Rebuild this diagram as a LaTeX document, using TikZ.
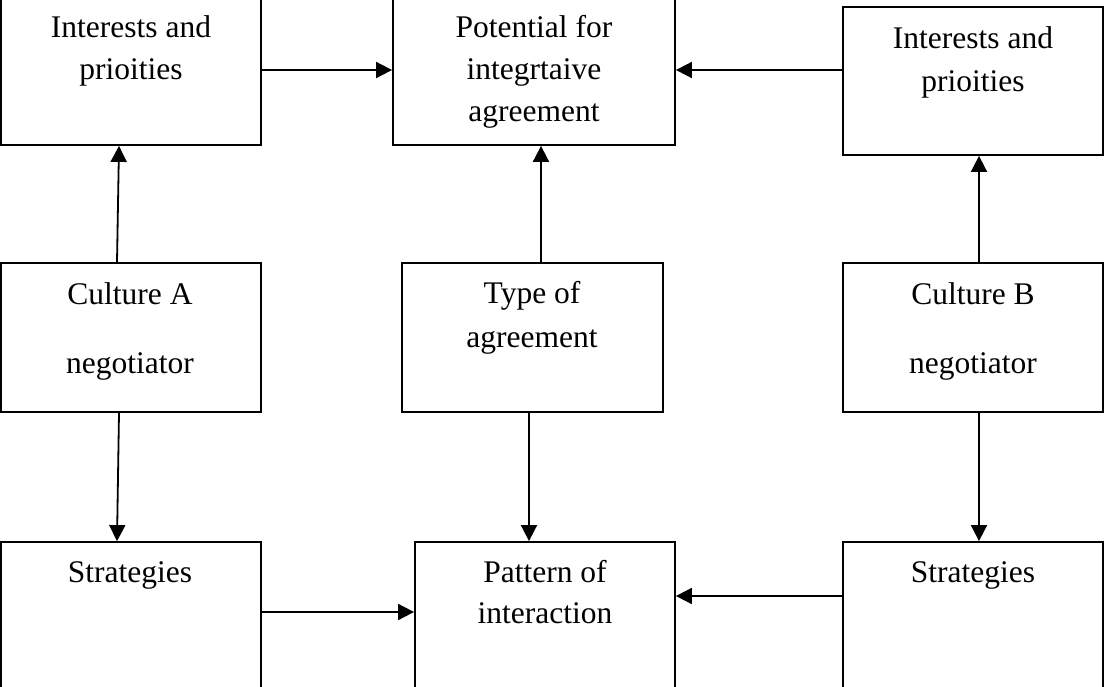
\documentclass[tikz,border=0pt]{standalone}
\usepackage{fontspec}
\setmainfont{Liberation Serif}
\usetikzlibrary{arrows.meta,calc}
\begin{document}
\begin{tikzpicture}[x=1pt,y=-1pt,
  box/.style={draw=black, line width=1.8pt, inner sep=0pt, fill=none},
  txt/.style={anchor=base, inner sep=0pt, font=\fontsize{31.5}{38}\selectfont},
  arr/.style={line width=1.8pt, -{Triangle[length=16pt,width=16pt]}}]
\useasboundingbox (0,0) rectangle (1104,686);
\clip (0,0) rectangle (1104,686);
% boxes
\node[box, minimum width=260pt, minimum height=150pt] (ia) at (131,70) {};
\node[box, minimum width=282pt, minimum height=150pt] (pot) at (534,70) {};
\node[box, minimum width=260pt, minimum height=148pt] (ib) at (973,81) {};
\node[box, minimum width=260pt, minimum height=149pt] (ca) at (131,337.5) {};
\node[box, minimum width=261pt, minimum height=149pt] (ty) at (532.5,337.5) {};
\node[box, minimum width=260pt, minimum height=149pt] (cb) at (973,337.5) {};
\node[box, minimum width=260pt, minimum height=158pt] (sa) at (131,621) {};
\node[box, minimum width=260pt, minimum height=158pt] (pat) at (545,621) {};
\node[box, minimum width=260pt, minimum height=158pt] (sb) at (973,621) {};
% texts
\node[txt] (ia1) at (131,37) {Interests and};
\node[txt] (ia2) at (131,79) {prioities};
\node[txt] (pot1) at (534,37) {Potential for};
\node[txt] (pot2) at (534,79) {integrtaive};
\node[txt] (pot3) at (534,121) {agreement};
\node[txt] (ib1) at (973,48) {Interests and};
\node[txt] (ib2) at (973,91) {prioities};
\node[txt] (ca1) at (130,304) {Culture A};
\node[txt] (ca2) at (130,373) {negotiator};
\node[txt] (ty1) at (532,303) {Type of};
\node[txt] (ty2) at (532,347) {agreement};
\node[txt] (cb1) at (973,304) {Culture B};
\node[txt] (cb2) at (973,373) {negotiator};
\node[txt] (sa1) at (130,582) {Strategies};
\node[txt] (pat1) at (545,582) {Pattern of};
\node[txt] (pat2) at (545,623) {interaction};
\node[txt] (sb1) at (973,582) {Strategies};
% connectors
\draw[arr] (ia.east) -- (pot.west);
\draw[arr] ($(ib.west)+(0,-11)$) -- (pot.east);
\draw[arr] ($(ca.north)+(-14,0)$) -- ($(ia.south)+(-12,0)$);
\draw[arr] ($(ca.south)+(-12,0)$) -- ($(sa.north)+(-14,0)$);
\draw[arr] ($(ty.north)+(8.5,0)$) -- ($(pot.south)+(7,0)$);
\draw[arr] ($(ty.south)+(-3.5,0)$) -- ($(pat.north)+(-16,0)$);
\draw[arr] ($(cb.north)+(6,0)$) -- ($(ib.south)+(6,0)$);
\draw[arr] ($(cb.south)+(6,0)$) -- ($(sb.north)+(6,0)$);
\draw[arr] ($(sa.east)+(0,-9)$) -- ($(pat.west)+(0,-9)$);
\draw[arr] ($(sb.west)+(0,-25)$) -- ($(pat.east)+(0,-25)$);
\end{tikzpicture}
\end{document}
